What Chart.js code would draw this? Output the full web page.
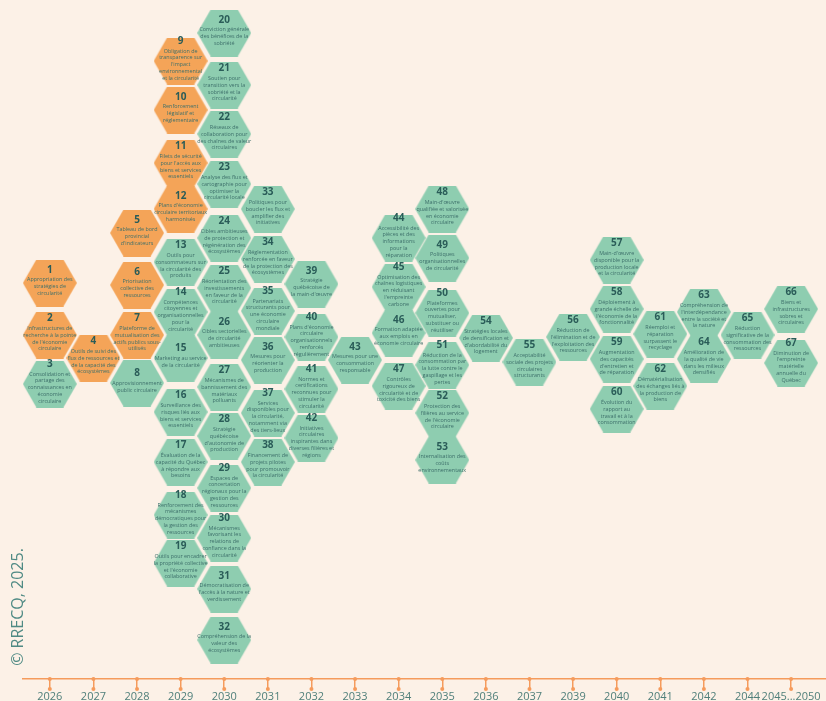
<!DOCTYPE html>
<html>
<head>
<meta charset="utf-8">
<script src="https://cdn.jsdelivr.net/npm/chart.js@4.4.1/dist/chart.umd.min.js"></script>
<style>
  body { margin: 0; background: #fcf1e7; }
  #wrap { width: 826px; height: 701px; }
</style>
</head>
<body>
<div id="wrap"><canvas id="chart"></canvas></div>
<script>
// timeline labels
const years = ['2026', '2027', '2028', '2029', '2030', '2031', '2032', '2033', '2034', '2035',
  '2036', '2037', '2039', '2040', '2041', '2042', '2044', '2045...2050'];

// index into years for each hexagon (hex n = position n-1)
const hexYear = [
  0, 0, 0, 1, 2, 2, 2, 2,
  3, 3, 3, 3, 3, 3, 3, 3, 3, 3, 3,
  4, 4, 4, 4, 4, 4, 4, 4, 4, 4, 4, 4, 4,
  5, 5, 5, 5, 5, 5,
  6, 6, 6, 6,
  7,
  8, 8, 8, 8,
  9, 9, 9, 9, 9, 9,
  10, 11, 12,
  13, 13, 13, 13,
  14, 14, 15, 15, 16, 17, 17
];

// vertical level of each hexagon
const hexLevel = [
  283, 335, 384, 358, 233, 285, 335, 383,
  61, 110, 163, 209, 262, 312, 358, 412, 462, 515, 563,
  33, 85, 134, 184, 238, 288, 335, 387, 436, 488, 538, 589, 640,
  209, 259, 311, 360, 413, 462,
  284, 337, 389, 438,
  360,
  238, 287, 333, 386,
  209, 258, 313, 365, 413, 460,
  338, 362, 337,
  260, 309, 359, 409,
  334, 386, 312, 359, 335, 309, 363
];

// 'o' = orange, 'g' = green
const hexTheme = 'oogoooogoooo' + 'g'.repeat(55);

const hexText = [
  'Appropriation des\nstratégies de\ncircularité',
  'Infrastructures de\nrecherche à la pointe\nde l\'économie\ncirculaire',
  'Consolidation et\npartage des\nconnaissances en\néconomie\ncirculaire',
  'Outils de suivi des\nflux de ressources et\nde la capacité des\nécosystèmes',
  'Tableau de bord\nprovincial\nd\'indicateurs',
  'Priorisation\ncollective des\nressources',
  'Plateforme de\nmutualisation des\nactifs publics sous-\nutilisés',
  'Approvisionnement\npublic circulaire',
  'Obligation de\ntransparence sur\nl\'impact\nenvironnemental\net la circularité',
  'Renforcement\nlégislatif et\nréglementaire',
  'Filets de sécurité\npour l\'accès aux\nbiens et services\nessentiels',
  'Plans d\'économie\ncirculaire territoriaux\nharmonisés',
  'Outils pour\nconsommateurs sur\nla circularité des\nproduits',
  'Compétences\ncitoyennes et\norganisationnelles\npour la\ncircularité',
  'Marketing au service\nde la circularité',
  'Surveillance des\nrisques liés aux\nbiens et services\nessentiels',
  'Évaluation de la\ncapacité du Québec\nà répondre aux\nbesoins',
  'Renforcement des\nmécanismes\ndémocratiques pour\nla gestion des\nressources',
  'Outils pour encadrer\nla propriété collective\net l\'économie\ncollaborative',
  'Conviction générale\ndes bénéfices de la\nsobriété',
  'Soutien pour\ntransition vers la\nsobriété et la\ncircularité',
  'Réseaux de\ncollaboration pour\ndes chaînes de valeur\ncirculaires',
  'Analyse des flux et\ncartographie pour\noptimiser la\ncircularité locale',
  'Cibles ambitieuses\nde protection et\nrégénération des\nécosystèmes',
  'Réorientation des\ninvestissements\nen faveur de la\ncircularité',
  'Cibles sectorielles\nde circularité\nambitieuses',
  'Mécanismes de\nbannissement des\nmatériaux\npolluants',
  'Stratégie\nquébécoise\nd\'autonomie de\nproduction',
  'Espaces de\nconcertation\nrégionaux pour la\ngestion des\nressources',
  'Mécanismes\nfavorisant les\nrelations de\nconfiance dans la\ncircularité',
  'Démocratisation de\nl\'accès à la nature et\nverdissement',
  'Compréhension de la\nvaleur des\nécosystèmes',
  'Politiques pour\nboucler les flux et\namplifier des\ninitiatives',
  'Réglementation\nrenforcée en faveur\nde la protection des\nécosystèmes',
  'Partenariats\nstructurants pour\nune économie\ncirculaire\nmondiale',
  'Mesures pour\nréorienter la\nproduction',
  'Services\ndisponibles pour\nla circularité,\nnotamment via\ndes tiers-lieux',
  'Financement de\nprojets pilotes\npour promouvoir\nla circularité',
  'Stratégie\nquébécoise de\nla main-d\'œuvre',
  'Plans d\'économie\ncirculaire\norganisationnels\nrenforcés\nrégulièrement',
  'Normes et\ncertifications\nreconnues pour\nstimuler la\ncircularité',
  'Initiatives\ncirculaires\ninspirantes dans\ndiverses filières et\nrégions',
  'Mesures pour une\nconsommation\nresponsable',
  'Accessibilité des\npièces et des\ninformations\npour la\nréparation',
  'Optimisation des\nchaînes logistiques\nen réduisant\nl\'empreinte\ncarbone',
  'Formation adaptée\naux emplois en\néconomie circulaire',
  'Contrôles\nrigoureux de\ncircularité et de\ntoxicité des biens',
  'Main-d\'œuvre\nqualifiée et valorisée\nen économie\ncirculaire',
  'Politiques\norganisationnelles\nde circularité',
  'Plateformes\nouvertes pour\nmutualiser,\nsubstituer ou\nréutiliser',
  'Réduction de la\nconsommation par\nla lutte contre le\ngaspillage et les\npertes',
  'Protection des\nfilières au service\nde l\'économie\ncirculaire',
  'Internalisation des\ncoûts\nenvironnementaux',
  'Stratégies locales\nde densification et\nd\'abordabilité du\nlogement',
  'Acceptabilité\nsociale des projets\ncirculaires\nstructurants',
  'Réduction de\nl\'élimination et de\nl\'exploitation des\nressources',
  'Main-d\'œuvre\ndisponible pour la\nproduction locale\net la circularité',
  'Déploiement à\ngrande échelle de\nl\'économie de la\nfonctionnalité',
  'Augmentation\ndes capacités\nd\'entretien et\nde réparation',
  'Évolution du\nrapport au\ntravail et à la\nconsommation',
  'Réemploi et\nréparation\nsurpassent le\nrecyclage',
  'Dématérialisation\ndes échanges liés à\nla production de\nbiens',
  'Compréhension de\nl\'interdépendance\nentre la société et\nla nature',
  'Amélioration de\nla qualité de vie\ndans les milieux\ndensifiés',
  'Réduction\nsignificative de la\nconsommation des\nressources',
  'Biens et\ninfrastructures\nsobres et\ncirculaires',
  'Diminution de\nl\'empreinte\nmatérielle\nannuelle du\nQuébec'
];

const ORANGE = '#f4a458';
const GREEN = '#8ecdb0';
const AXIS = '#f59b5c';

// hexagon image used as point style
function hexImage(fill) {
  const r = 27;
  const c = document.createElement('canvas');
  c.width = 2 * r;
  c.height = Math.round(Math.sqrt(3) * r);
  const g = c.getContext('2d');
  g.fillStyle = fill;
  g.beginPath();
  for (let k = 0; k < 6; k++) {
    const a = Math.PI / 3 * k;
    const px = r + r * Math.cos(a);
    const py = c.height / 2 + (c.height / 2) * Math.sin(a) / Math.sin(Math.PI / 3);
    if (k === 0) g.moveTo(px, py); else g.lineTo(px, py);
  }
  g.closePath();
  g.fill();
  return c;
}
const orangeHex = hexImage(ORANGE);
const greenHex = hexImage(GREEN);

const points = hexLevel.map((y, i) => ({ x: hexYear[i], y: y }));

const bgPlugin = {
  id: 'bg',
  beforeDraw(chart) {
    const ctx = chart.ctx;
    ctx.save();
    ctx.fillStyle = '#fcf1e7';
    ctx.fillRect(0, 0, chart.width, chart.height);
    ctx.restore();
  }
};

// numbers and captions inside the hexagons
const labelPlugin = {
  id: 'hexLabels',
  afterDatasetsDraw(chart) {
    const ctx = chart.ctx;
    const meta = chart.getDatasetMeta(0);
    ctx.save();
    ctx.textAlign = 'center';
    ctx.textBaseline = 'middle';
    meta.data.forEach((pt, i) => {
      const lines = hexText[i].split('\n');
      const n = lines.length;
      const top = pt.y - 3.35 * n - 3;
      ctx.fillStyle = '#2a5c58';
      ctx.font = 'bold 10px "Open Sans"';
      ctx.fillText(String(i + 1), pt.x, top);
      ctx.fillStyle = '#3d6f6a';
      ctx.font = '5.4px "Open Sans"';
      lines.forEach((s, k) => ctx.fillText(s, pt.x, top + 10 + k * 6.7));
    });
    ctx.restore();
  }
};

// dots on the timeline ticks + copyright
const axisPlugin = {
  id: 'axisDeco',
  afterDraw(chart) {
    const ctx = chart.ctx;
    const xs = chart.scales.x;
    const y0 = chart.chartArea.bottom;
    ctx.save();
    ctx.fillStyle = AXIS;
    years.forEach((_, i) => {
      const x = xs.getPixelForValue(i);
      ctx.beginPath(); ctx.arc(x, y0, 2, 0, Math.PI * 2); ctx.fill();
      ctx.beginPath(); ctx.arc(x, y0 + 10, 2, 0, Math.PI * 2); ctx.fill();
    });
    ctx.translate(18, 607);
    ctx.rotate(-Math.PI / 2);
    ctx.fillStyle = '#4f8a84';
    ctx.font = '16px "Open Sans"';
    ctx.textAlign = 'center';
    ctx.textBaseline = 'middle';
    ctx.fillText('© RRECQ, 2025.', 0, 0);
    ctx.restore();
  }
};

new Chart(document.getElementById('chart'), {
  type: 'scatter',
  data: {
    datasets: [{
      data: points,
      pointStyle: ctx => hexTheme[ctx.dataIndex] === 'o' ? orangeHex : greenHex,
      pointRadius: 27,
      clip: false
    }]
  },
  options: {
    responsive: true,
    maintainAspectRatio: false,
    animation: false,
    events: [],
    layout: { autoPadding: false, padding: { left: 23, right: 0, top: 0, bottom: 0 } },
    plugins: { legend: { display: false }, tooltip: { enabled: false } },
    scales: {
      x: {
        type: 'linear',
        min: -0.615,
        max: 17.8,
        afterBuildTicks: scale => { scale.ticks = years.map((_, i) => ({ value: i })); },
        afterFit: scale => {
          scale.height = 22;
          scale.paddingLeft = 0;
          scale.paddingRight = 0;
        },
        ticks: {
          callback: (v) => years[v],
          color: '#4f7f7a',
          font: { family: 'Open Sans', size: 11 },
          padding: 1,
          maxRotation: 0,
          autoSkip: false
        },
        grid: { drawOnChartArea: false, drawTicks: true, tickLength: 10, color: AXIS, lineWidth: 1.5 },
        border: { color: AXIS, width: 1.5 }
      },
      y: {
        display: false,
        reverse: true,
        min: 0,
        max: 679
      }
    }
  },
  plugins: [bgPlugin, labelPlugin, axisPlugin]
});
</script>
</body>
</html>
